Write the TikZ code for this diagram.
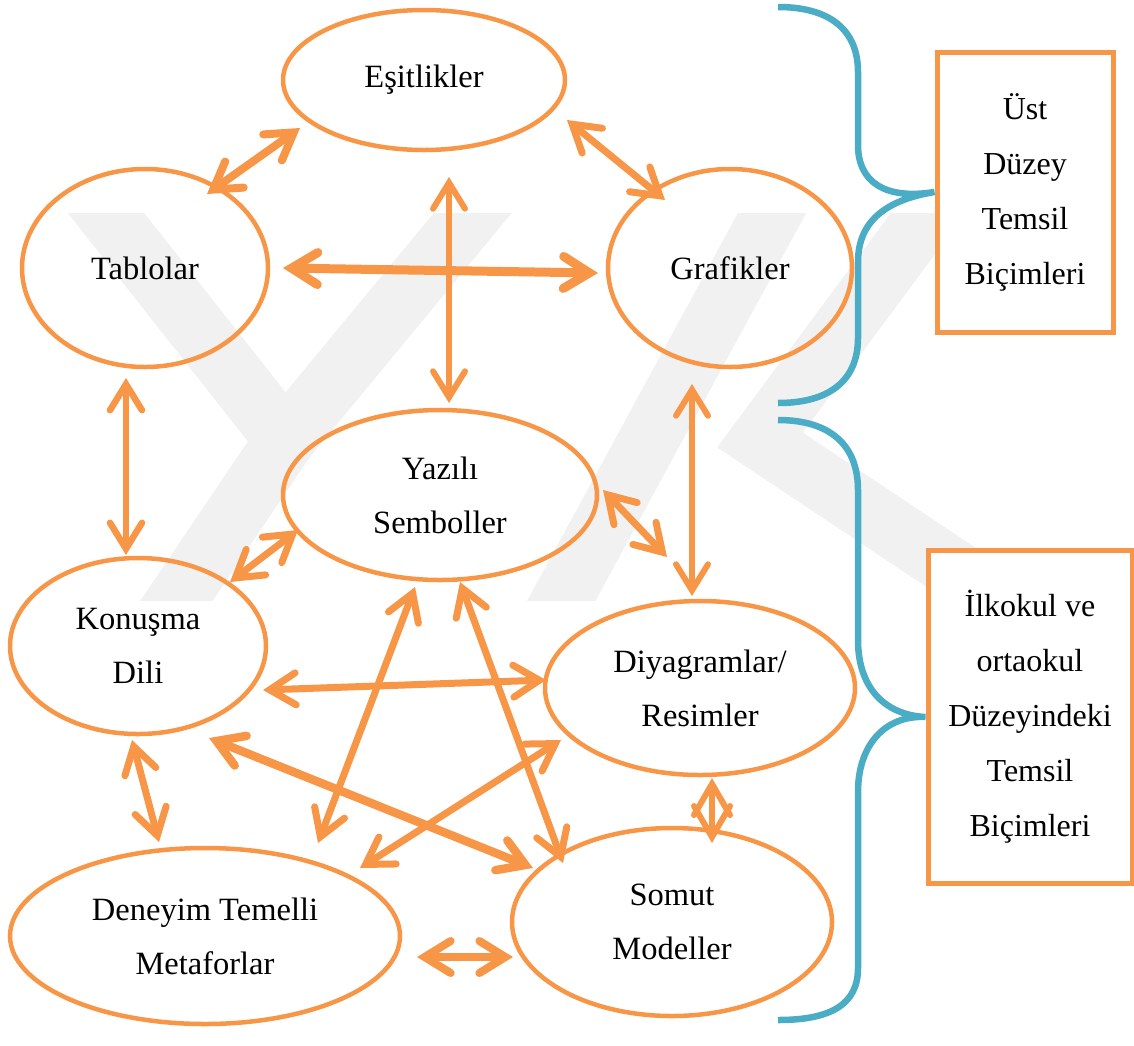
\documentclass[tikz,border=0pt]{standalone}
\usepackage{fontspec}
\setmainfont{Liberation Serif}
\usetikzlibrary{arrows.meta,shapes.geometric}
\definecolor{orn}{HTML}{F79646}
\definecolor{brc}{HTML}{4BACC6}
\definecolor{wm}{HTML}{F1F1F1}
\begin{document}
\begin{tikzpicture}[x=1pt,y=-1pt,
  ell/.style={ellipse, draw=orn, line width=4.5pt, inner sep=0pt, align=center, font=\fontsize{32.5}{54}\selectfont},
  box/.style={rectangle, draw=orn, line width=5pt, fill=white, inner sep=0pt, align=center, font=\fontsize{32}{55}\selectfont},
  arr/.style={draw=orn, line width=7pt, {Straight Barb[length=26pt,width=32pt,line cap=round,line join=miter]}-{Straight Barb[length=26pt,width=32pt,line cap=round,line join=miter]}},
  brace/.style={draw=brc, line width=6.5pt, line join=miter},
  wmark/.style={draw=wm, line width=60pt, line cap=butt, line join=miter}]
\useasboundingbox (0,0) rectangle (1134,1045);
% watermark
\begin{scope}
\clip (0,213) rectangle (1134,600);
\draw[wmark] (80,180) -- (285,440) -- (150,640);
\draw[wmark] (500,180) -- (285,440);
\draw[wmark] (540,640) -- (790,180);
\draw[wmark] (960,170) -- (760,440) -- (1000,600);
\end{scope}
% nodes
\node[ell, minimum width=282pt, minimum height=140pt] (eq) at (424,80) {Eşitlikler};
\node[ell, minimum width=246pt, minimum height=198pt] (tab) at (145,268) {Tablolar};
\node[ell, minimum width=244pt, minimum height=198pt] (gra) at (730,268) {Grafikler};
\node[ell, minimum width=314pt, minimum height=170pt] (yaz) at (440,495) {Yazılı\\Semboller};
\node[ell, minimum width=256pt, minimum height=176pt] (kon) at (138,646) {Konuşma\\Dili};
\node[ell, minimum width=310pt, minimum height=174pt] (diy) at (700,688) {Diyagramlar/\\Resimler};
\node[ell, minimum width=320pt, minimum height=188pt] (som) at (672,922) {Somut\\Modeller};
\node[ell, minimum width=390pt, minimum height=176pt] (den) at (205,936) {Deneyim Temelli\\Metaforlar};
\node[box, minimum width=176pt, minimum height=280pt] (ust) at (1025,192) {Üst\\Düzey\\Temsil\\Biçimleri};
\node[box, minimum width=204pt, minimum height=333pt] (ilk) at (1030,717) {İlkokul ve\\ortaokul\\Düzeyindeki\\Temsil\\Biçimleri};
% braces
\draw[brace] (778,7) .. controls (830,7) and (858,30) .. (858,72) -- (858,145)
  .. controls (858,182) and (885,200) .. (ust.west)
  .. controls (885,200) and (858,222) .. (858,262) -- (858,338)
  .. controls (858,380) and (830,403) .. (778,403);
\draw[brace] (778,420) .. controls (830,420) and (858,445) .. (858,490) -- (858,640)
  .. controls (858,688) and (885,715) .. (ilk.west)
  .. controls (885,715) and (858,745) .. (858,792) -- (858,968)
  .. controls (858,1005) and (830,1020) .. (778,1020);
% arrow end points
\coordinate (a1s) at (300,128); \coordinate (a1e) at (207,194);
\coordinate (a2s) at (567,120); \coordinate (a2e) at (665,200);
\coordinate (a3s) at (283,268); \coordinate (a3e) at (598,273);
\coordinate (a4s) at (449,177); \coordinate (a4e) at (449,403);
\coordinate (a5s) at (126,378); \coordinate (a5e) at (126,555);
\coordinate (a6s) at (692,384); \coordinate (a6e) at (692,596);
\coordinate (a7s) at (603,490); \coordinate (a7e) at (667,557);
\coordinate (a8s) at (298,530); \coordinate (a8e) at (230,582);
\coordinate (a9s) at (263,690); \coordinate (a9e) at (546,680);
\coordinate (a10s) at (209,738); \coordinate (a10e) at (533,868);
\coordinate (a11s) at (415,587); \coordinate (a11e) at (318,843);
\coordinate (a12s) at (460,582); \coordinate (a12e) at (563,863);
\coordinate (a13s) at (561,740); \coordinate (a13e) at (360,868);
\coordinate (a14s) at (132,740); \coordinate (a14e) at (159,842);
\coordinate (a15s) at (712,778); \coordinate (a15e) at (712,843);
\coordinate (a16s) at (417,957); \coordinate (a16e) at (513,957);
% arrows
\draw[arr, line width=8pt] (a1s) -- (a1e);
\draw[arr] (a2s) -- (a2e);
\draw[arr, line width=9pt] (a3s) -- (a3e);
\draw[arr, line width=6pt] (a4s) -- (a4e);
\draw[arr, line width=6.5pt] (a5s) -- (a5e);
\draw[arr, line width=6pt] (a6s) -- (a6e);
\draw[arr] (a7s) -- (a7e);
\draw[arr] (a8s) -- (a8e);
\draw[arr] (a9s) -- (a9e);
\draw[arr, line width=8.5pt] (a10s) -- (a10e);
\draw[arr] (a11s) -- (a11e);
\draw[arr] (a12s) -- (a12e);
\draw[arr] (a13s) -- (a13e);
\draw[arr] (a14s) -- (a14e);
\draw[draw=orn, line width=6pt, {Straight Barb[length=31pt,width=36pt,line cap=round,line join=miter]}-{Straight Barb[length=31pt,width=36pt,line cap=round,line join=miter]}] (a15s) -- (a15e);
\draw[arr, line width=8pt] (a16s) -- (a16e);
\end{tikzpicture}
\end{document}
